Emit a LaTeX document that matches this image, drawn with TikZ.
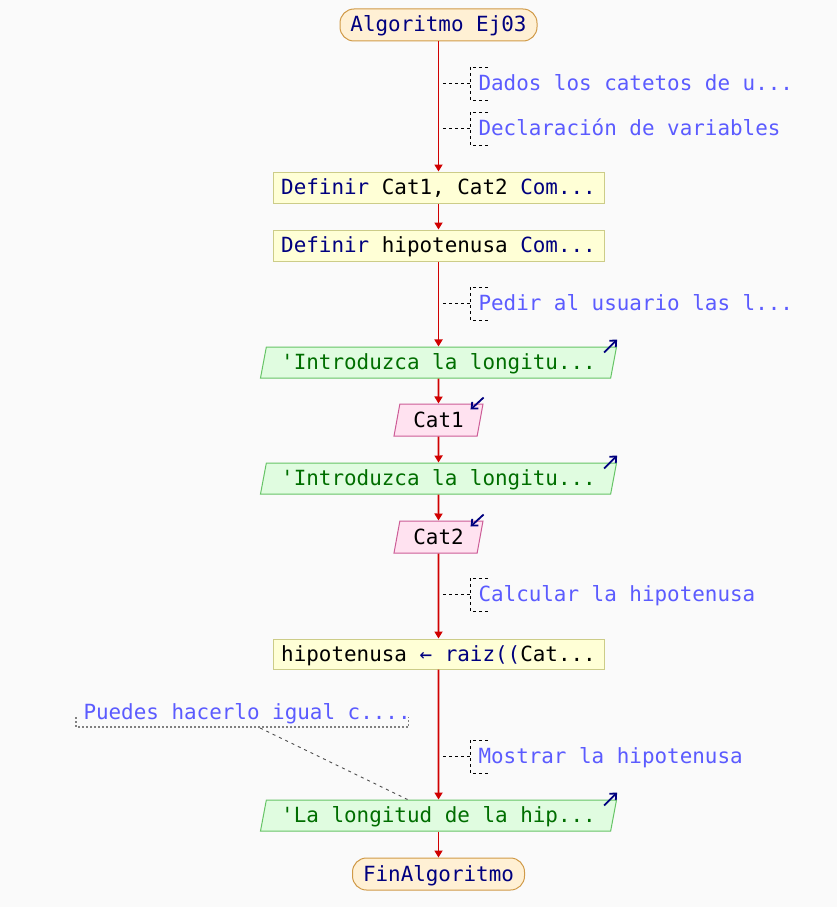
\documentclass[tikz,border=0pt]{standalone}
\usepackage{fontspec}
\usetikzlibrary{shapes.geometric,arrows.meta}
\newfontfamily\psemono[Ligatures=TeXOff]{DejaVu Sans Mono}
\definecolor{fondo}{HTML}{FAFAFA}
\definecolor{azulosc}{HTML}{00007F}
\definecolor{azulcom}{HTML}{5B5BFF}
\definecolor{rojoflecha}{HTML}{D00000}
\definecolor{iniciofill}{HTML}{FFF0D4}
\definecolor{iniciodraw}{HTML}{D09A48}
\definecolor{procfill}{HTML}{FFFFD6}
\definecolor{procdraw}{HTML}{CCCC88}
\definecolor{salfill}{HTML}{E0FCE0}
\definecolor{saldraw}{HTML}{66C466}
\definecolor{saltext}{HTML}{006E00}
\definecolor{entfill}{HTML}{FFE2F0}
\definecolor{entdraw}{HTML}{CC5C96}

\begin{document}
\begin{tikzpicture}[x=1pt, y=-1pt,
	base/.style={font=\psemono\fontsize{20.9}{25}\selectfont, text height=16pt, text depth=2pt, inner sep=0pt, line width=1pt},
	terminal/.style={base, rectangle, rounded corners=14pt, draw=iniciodraw, fill=iniciofill, text=azulosc, minimum height=32pt},
	proceso/.style={base, rectangle, draw=procdraw, fill=procfill, minimum width=331pt, minimum height=31pt},
	es/.style={base, trapezium, trapezium left angle=72, trapezium right angle=108, trapezium stretches body, minimum height=31pt},
	salida/.style={es, draw=saldraw, fill=salfill, text=saltext, minimum width=356pt},
	entrada/.style={es, draw=entdraw, fill=entfill, minimum width=89pt, minimum height=32pt},
	flujo/.style={draw=rojoflecha, line width=1.7pt, -{Triangle[length=7pt,width=8pt]}},
	nota/.style={base, text=azulcom, anchor=west},
	corchete/.style={black, line width=0.9pt, dash pattern=on 3pt off 3pt},
	marca/.style={azulosc, line width=1.8pt, -{Straight Barb[length=5pt,width=9pt]}}]
		\fill[fondo] (0,0) rectangle (837,907);
		\useasboundingbox (0,0) rectangle (837,907);

		\node[terminal, minimum width=197pt] (inicio) at (438.5,25) {Algoritmo Ej03};
		\node[proceso] (def1) at (438.5,187.5) {{\color{azulosc}Definir} Cat1, Cat2 {\color{azulosc}Com...}};
		\node[proceso] (def2) at (438.5,245.5) {{\color{azulosc}Definir} hipotenusa {\color{azulosc}Com...}};
		\node[salida] (sal1) at (438.5,362.5) {'Introduzca la longitu...};
		\node[entrada] (ent1) at (438.5,420) {Cat1};
		\node[salida] (sal2) at (438.5,478.5) {'Introduzca la longitu...};
		\node[entrada] (ent2) at (438.5,537) {Cat2};
		\node[proceso, minimum height=30pt] (asig) at (438.5,654) {hipotenusa {\color{azulosc}← raiz((}Cat...};
		\node[salida] (sal3) at (438.5,815.5) {'La longitud de la hip...};
		\node[terminal, minimum width=172pt] (fin) at (438.5,874) {FinAlgoritmo};

		\foreach \a/\b in {inicio/def1, def1/def2, def2/sal1, sal1/ent1, ent1/sal2, sal2/ent2, ent2/asig, asig/sal3, sal3/fin}
			\draw[flujo] (\a) -- (\b);

		\foreach \n in {sal1, sal2, sal3}
			\draw[marca] ([shift={(-13,6)}]\n.top right corner) -- ++(13,-13);
		\foreach \n in {ent1, ent2}
			\draw[marca] ([shift={(0,-6)}]\n.top right corner) -- ++(-13,12);

		% comentarios junto al flujo
		\foreach \cy/\ctexto [count=\i] in {83.5/{Dados los catetos de u...}, 128.5/{Declaración de variables}, 303.5/{Pedir al usuario las l...}, 594.5/{Calcular la hipotenusa}, 756.5/{Mostrar la hipotenusa}} {
			\node[nota] (nota\i) at (478,\cy) {\ctexto};
			\coordinate (eje\i) at (443,\cy);
			\draw[corchete] ([shift={(10,-16.5)}]nota\i.west) -| ([shift={(-8,16.5)}]nota\i.west) -- ++(18,0);
			\draw[corchete] (eje\i) -- ([xshift=-8]nota\i.west);
		}

		\node[nota] (notaizq) at (83,712.5) {Puedes hacerlo igual c....};
		\draw[gray, line width=1.2pt, dash pattern=on 1.5pt off 2.5pt] ([shift={(-7,4.5)}]notaizq.west) |- ([shift={(-2.5,14.5)}]notaizq.east) -- ++(0,-10);
		\draw[gray!60!black, line width=0.9pt, dash pattern=on 3pt off 4pt] ([shift={(13,15.5)}]notaizq.west -| notaizq.center) -- ([xshift=-31]sal3.north);
	\end{tikzpicture}
\end{document}
